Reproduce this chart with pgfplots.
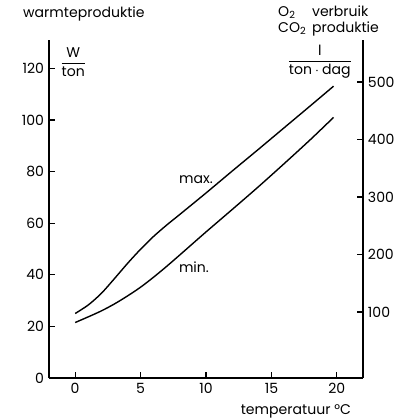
\documentclass[border=0pt]{standalone}
\usepackage{amsmath}
\usepackage{fontspec}
\setmainfont{Poppins}
\usepackage{pgfplots}
\pgfplotsset{compat=1.18}
\usetikzlibrary{calc}

% 1 px of the reference
\def\u{0.025cm}

\begin{document}
\fontsize{10}{12}\selectfont
\begin{tikzpicture}
\pgfplotsset{
  base/.style={
    scale only axis, width=7.85cm, height=8.45cm,
    xmin=-2, xmax=22,
    axis line style={line width=1pt, -},
    tick align=inside,
    major tick length=6*\u,
    tick style={line width=0.8pt, black},
    tick label style={font=\fontsize{10}{12}\selectfont},
    /pgf/number format/assume math mode=true,
    clip=false,
  }
}
\begin{axis}[base, name=ax,
    ymin=0, ymax=131,
    axis x line*=bottom, axis y line*=left,
    xtick={0,5,10,15,20}, ytick={0,20,40,60,80,100,120},
]
% maximum
\addplot[black, line width=1pt, smooth] coordinates {
  (0,25)(1,28.3)(2,32.8)(3,38.5)(4,44.4)(5,49.9)(6,54.9)(7,59.3)(8,63.4)
  (10,71.7)(12,80.2)(14,88.6)(16,97.1)(18,105.6)(19.75,113.1)};
% minimum
\addplot[black, line width=1pt, smooth] coordinates {
  (0,21.5)(1,23.7)(2,26)(3,28.7)(4,31.8)(5,35.2)(6,39.1)(7,43.3)(8,47.7)
  (10,56.6)(12,65.3)(14,74.1)(16,83.2)(18,92.5)(19.75,101)};

\node at (axis cs:9.24,76.9) {max.};
\node at (axis cs:9.08,43.1) {min.};
\node at (axis cs:-0.15,122.3) {$\dfrac{\text{W}}{\text{ton}}$};
\node at (axis cs:18.7,122.7) {$\dfrac{\text{l}}{\text{ton}\cdot\text{dag}}$};
\node[anchor=west] at (axis cs:-4.35,141) {warmteproduktie};
\node[anchor=west, inner sep=0pt] at (axis cs:15.5,138.4)
  {\renewcommand{\arraystretch}{0.95}\begin{tabular}{@{}l@{\hspace{4pt}}l@{}}
   O\textsubscript{2} & verbruik\\ CO\textsubscript{2} & produktie\end{tabular}};
\node at (axis cs:16.87,-12.8) {temperatuur °C};
\end{axis}

\begin{axis}[base, at={(ax.south west)},
    ymin=-14.8, ymax=573,
    axis x line=none, axis y line*=right,
    ytick={100,200,300,400,500},
]
\addplot[draw=none] coordinates {(0,0)};
\end{axis}

\pgfresetboundingbox
\path[use as bounding box] ($(ax.south west)+(-49*\u,-42*\u)$)
  rectangle ($(ax.north east)+(37*\u,40*\u)$);
\end{tikzpicture}
\end{document}
